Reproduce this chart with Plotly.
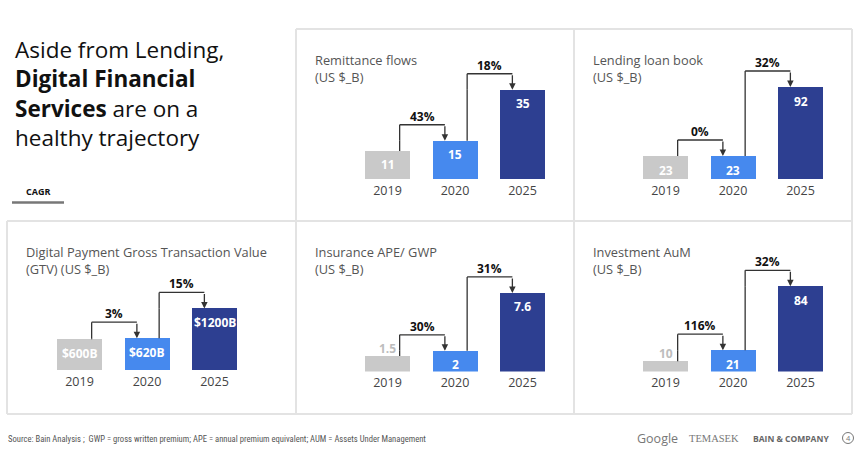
import plotly.graph_objects as go

W, H = 862, 456

# ---------------- data ----------------
years = ["2019", "2020", "2025"]

remittance = [11, 15, 35]
lending = [23, 23, 92]
gtv = [600, 620, 1200]
insurance = [1.5, 2, 7.6]
investment = [10, 21, 84]

remittance_labels = ["11", "15", "35"]
lending_labels = ["23", "23", "92"]
gtv_labels = ["$600B", "$620B", "$1200B"]
insurance_labels = ["1.5", "2", "7.6"]
investment_labels = ["10", "21", "84"]

cagr_remittance = ["43%", "18%"]
cagr_lending = ["0%", "32%"]
cagr_gtv = ["3%", "15%"]
cagr_insurance = ["30%", "31%"]
cagr_investment = ["116%", "32%"]

titles = [
    "Remittance flows<br>(US $_B)",
    "Lending loan book<br>(US $_B)",
    "Digital Payment Gross Transaction Value<br>(GTV) (US $_B)",
    "Insurance APE/ GWP<br>(US $_B)",
    "Investment AuM<br>(US $_B)",
]

# ---------------- style / layout ----------------
bar_colors = ["#c9c9c9", "#4689ee", "#2d3f91"]
FONT = "Open Sans, Roboto, Arial, sans-serif"

# each panel: box (px), x-domain (px), y-domain bottom/top (px), y max (data)
panels = [
    dict(vals=remittance, labels=remittance_labels, cagr=cagr_remittance, title=titles[0],
         box=(296, 29, 574, 221), xd=(353.75, 556.25), yd=(179, 40), ymax=54.5),
    dict(vals=lending, labels=lending_labels, cagr=cagr_lending, title=titles[1],
         box=(574, 29, 852, 221), xd=(631.75, 834.25), yd=(179, 40), ymax=139),
    dict(vals=gtv, labels=gtv_labels, cagr=cagr_gtv, title=titles[2],
         box=(7, 221, 296, 414), xd=(45.75, 248.25), yd=(370, 232), ymax=2689),
    dict(vals=insurance, labels=insurance_labels, cagr=cagr_insurance, title=titles[3],
         box=(296, 221, 574, 414), xd=(353.75, 556.25), yd=(371.5, 232), ymax=13.5),
    dict(vals=investment, labels=investment_labels, cagr=cagr_investment, title=titles[4],
         box=(574, 221, 852, 414), xd=(631.75, 834.25), yd=(371.5, 232), ymax=137.6),
]


def px(x):
    return x / W


def py(y):
    return 1 - y / H


fig = go.Figure()
shapes = []
annotations = []
layout_axes = {}

LIFT = 16  # px the CAGR bracket sits above the destination bar

for i, p in enumerate(panels):
    n = "" if i == 0 else str(i + 1)
    xa, ya = "x" + n, "y" + n
    fig.add_trace(go.Bar(
        x=[0, 1, 2], y=p["vals"], marker_color=bar_colors, marker_line_width=0,
        width=0.667, xaxis=xa, yaxis=ya, showlegend=False, hoverinfo="skip",
    ))
    layout_axes["xaxis" + n] = dict(
        domain=[px(p["xd"][0]), px(p["xd"][1])], anchor=ya, range=[-0.5, 2.5],
        tickvals=[0, 1, 2], ticktext=years, showgrid=False, zeroline=False,
        showline=False, ticks="", tickfont=dict(family=FONT, size=12.5, color="#444"),
        ticklabelstandoff=2, fixedrange=True,
    )
    layout_axes["yaxis" + n] = dict(
        domain=[py(p["yd"][0]), py(p["yd"][1])], anchor=xa, range=[0, p["ymax"]],
        visible=False, fixedrange=True,
    )
    vmax = max(p["vals"])
    # value labels
    for k, (v, lab) in enumerate(zip(p["vals"], p["labels"])):
        inside = v / vmax >= 0.22
        annotations.append(dict(
            x=k, y=v, xref=xa, yref=ya, text="<b>%s</b>" % lab, showarrow=False,
            xanchor="center", yanchor="middle",
            yshift=-14 if inside else 8,
            font=dict(family=FONT, size=12, color="white" if inside else "#bdbdbd"),
        ))
    # CAGR brackets
    for j in range(2):
        s, d = j, j + 1
        sx, dx = s + 0.18, d - 0.15
        vs, vd = p["vals"][s], p["vals"][d]
        line = dict(color="#333", width=1.3)
        if vd > vs:
            shapes.append(dict(type="line", xref=xa, yref=ya, x0=sx, x1=sx, y0=vs, y1=vd, line=line))
        shapes.append(dict(type="line", xref=xa, yref=ya, ysizemode="pixel", yanchor=vd,
                           x0=sx, x1=sx, y0=0, y1=LIFT, line=line))
        shapes.append(dict(type="line", xref=xa, yref=ya, ysizemode="pixel", yanchor=vd,
                           x0=sx, x1=dx, y0=LIFT, y1=LIFT, line=line))
        annotations.append(dict(
            x=dx, y=vd, xref=xa, yref=ya, text="", showarrow=True, ax=0, ay=-LIFT,
            arrowhead=2, arrowsize=1, arrowwidth=1.3, arrowcolor="#333", standoff=0,
        ))
        annotations.append(dict(
            x=(sx + dx) / 2, y=vd, xref=xa, yref=ya, text="<b>%s</b>" % p["cagr"][j],
            showarrow=False, xanchor="center", yanchor="bottom", yshift=LIFT - 2,
            font=dict(family=FONT, size=12, color="#111"),
        ))
    # panel title
    bx0, by0, bx1, by1 = p["box"]
    annotations.append(dict(
        x=px(bx0 + 17), y=py(by0 + 20), xref="paper", yref="paper", xanchor="left",
        yanchor="top", align="left", showarrow=False, text=p["title"],
        font=dict(family=FONT, size=12.8, color="#555"),
    ))

# panel borders
bc = dict(color="#e3e3e3", width=2)
for (x0, y0, x1, y1) in [(296, 29, 296, 414), (574, 29, 574, 414), (852, 29, 852, 414),
                         (7, 221, 7, 414), (296, 29, 852, 29), (7, 221, 852, 221),
                         (7, 414, 852, 414)]:
    shapes.append(dict(type="line", xref="paper", yref="paper", x0=px(x0), x1=px(x1),
                       y0=py(y0), y1=py(y1), line=bc, layer="below"))


def paper_text(x, y, text, font, xanchor="left", yanchor="middle"):
    annotations.append(dict(
        x=px(x), y=py(y), xref="paper", yref="paper", xanchor=xanchor, yanchor=yanchor,
        align="left", showarrow=False, text=text, font=font,
    ))


# headline
paper_text(13, 32,
           "Aside from Lending,<br><b>Digital Financial</b><br><b>Services</b> are on a<br>healthy trajectory",
           dict(family=FONT, size=22.5, color="#111"), yanchor="top")
# CAGR legend
paper_text(38, 191, "<b>CAGR</b>", dict(family=FONT, size=9, color="#111"), xanchor="center")
shapes.append(dict(type="line", xref="paper", yref="paper", x0=px(12), x1=px(64),
                   y0=py(202.5), y1=py(202.5), line=dict(color="#777", width=2.5)))

# footer
paper_text(6, 439,
           "Source: Bain Analysis ;  GWP = gross written premium; APE = annual premium equivalent; AUM = Assets Under Management",
           dict(family="Liberation Sans Narrow, Roboto Condensed, Arial Narrow, sans-serif", size=8.6, color="#555"))
paper_text(635, 438, "Google", dict(family=FONT, size=12.5, color="#777"))
paper_text(687, 438, "TEMASEK", dict(family="Liberation Serif, DejaVu Serif, serif", size=10.5, color="#777"))
paper_text(751, 438, "<b>BAIN &amp; COMPANY</b>", dict(family=FONT, size=8.5, color="#666"))
shapes.append(dict(type="circle", xref="paper", yref="paper", x0=px(842.5), x1=px(853.5),
                   y0=py(443.5), y1=py(432.5), line=dict(color="#777", width=1)))
paper_text(848, 438, "4", dict(family=FONT, size=7.5, color="#777"), xanchor="center")

fig.update_layout(
    width=W, height=H, margin=dict(l=0, r=0, t=0, b=0),
    paper_bgcolor="white", plot_bgcolor="white",
    shapes=shapes, annotations=annotations, bargap=0, **layout_axes,
)

fig.write_html(
    "out.html",
    config={"displayModeBar": False},
    post_script="document.body.style.margin='0';document.body.style.overflow='hidden';",
)
